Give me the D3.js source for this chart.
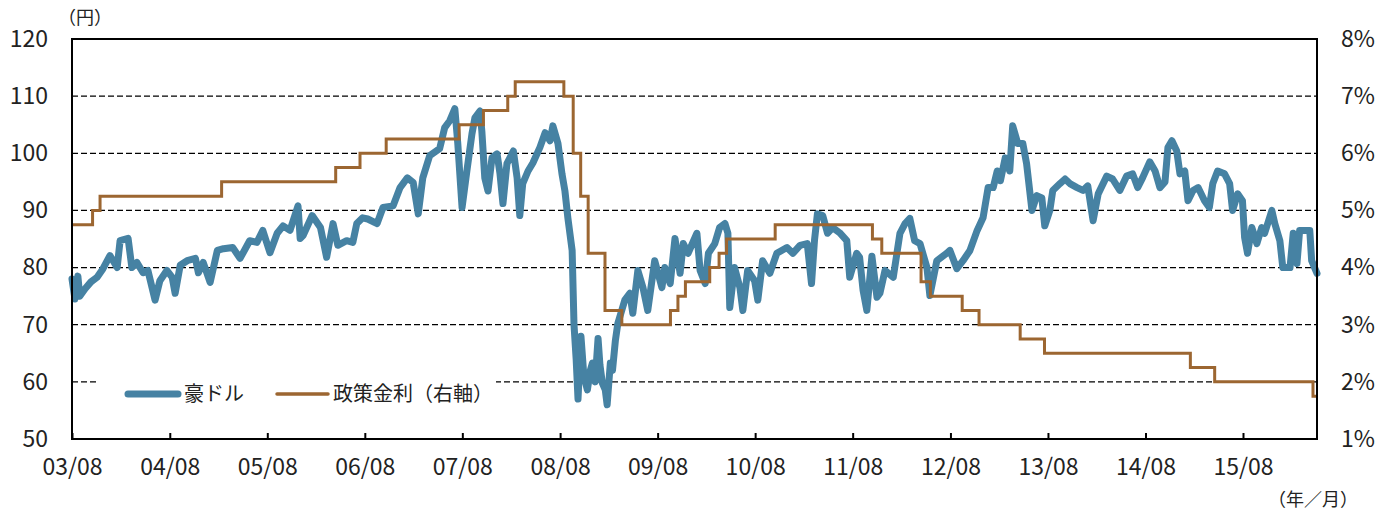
<!DOCTYPE html>
<html>
<head>
<meta charset="utf-8">
<script src="https://cdn.jsdelivr.net/npm/d3@7"></script>
<style>
  body { margin: 0; background: #fff; }
  svg { display: block; font-family: "Noto Sans CJK JP", "Noto Sans", sans-serif; }
</style>
</head>
<body>
<svg width="1396" height="511"></svg>
<script>
// AUD/JPY (円)
const audDates = [
  "2003-08-01","2003-08-12","2003-08-23","2003-08-30","2003-09-19","2003-10-11","2003-11-03","2003-11-25",
  "2003-12-21","2004-01-17","2004-01-28","2004-02-27","2004-03-12","2004-03-31","2004-04-23","2004-05-11",
  "2004-06-07","2004-06-25","2004-07-21","2004-08-10","2004-08-21","2004-09-09","2004-10-05","2004-11-05",
  "2004-11-16","2004-12-04","2004-12-30","2005-01-26","2005-02-18","2005-03-25","2005-04-21","2005-05-27",
  "2005-06-23","2005-07-15","2005-08-11","2005-09-07","2005-09-29","2005-10-25","2005-11-24","2005-12-02",
  "2005-12-13","2006-01-16","2006-02-16","2006-03-11","2006-04-04","2006-04-22","2006-05-25","2006-06-17",
  "2006-07-02","2006-07-24","2006-08-12","2006-09-16","2006-10-08","2006-11-15","2006-12-11","2007-01-07",
  "2007-01-29","2007-02-17","2007-03-06","2007-04-01","2007-05-08","2007-05-27","2007-06-15","2007-07-04",
  "2007-07-15","2007-07-31","2007-08-18","2007-09-06","2007-09-17","2007-10-06","2007-10-13","2007-10-24",
  "2007-11-05","2007-11-20","2007-12-09","2007-12-20","2007-12-31","2008-01-15","2008-02-08","2008-02-22",
  "2008-03-03","2008-03-14","2008-04-03","2008-04-21","2008-05-17","2008-06-06","2008-06-24","2008-07-05",
  "2008-07-24","2008-08-08","2008-08-19","2008-08-30","2008-09-15","2008-09-22","2008-09-30","2008-10-07",
  "2008-10-18","2008-10-29","2008-11-11","2008-11-22","2008-11-30","2008-12-10","2008-12-21","2008-12-28",
  "2009-01-06","2009-01-17","2009-01-24","2009-02-05","2009-02-13","2009-02-24","2009-03-05","2009-03-12",
  "2009-03-31","2009-04-19","2009-04-30","2009-05-19","2009-06-07","2009-06-25","2009-07-21","2009-08-17",
  "2009-08-28","2009-09-17","2009-10-05","2009-10-24","2009-11-05","2009-11-23","2009-12-26","2010-01-07",
  "2010-01-26","2010-02-07","2010-03-03","2010-03-21","2010-04-10","2010-04-21","2010-04-28","2010-05-16",
  "2010-06-05","2010-06-16","2010-07-04","2010-07-30","2010-08-11","2010-08-29","2010-09-25","2010-10-21",
  "2010-11-28","2010-12-20","2011-01-16","2011-02-12","2011-02-28","2011-03-11","2011-03-22","2011-04-11",
  "2011-04-29","2011-05-18","2011-06-13","2011-07-10","2011-07-21","2011-08-16","2011-08-27","2011-09-09",
  "2011-09-23","2011-10-12","2011-10-31","2011-11-11","2011-11-30","2011-12-31","2012-01-25","2012-02-13",
  "2012-03-02","2012-03-20","2012-04-09","2012-05-05","2012-05-16","2012-06-11","2012-07-18","2012-07-30",
  "2012-08-25","2012-09-17","2012-10-13","2012-11-09","2012-12-01","2012-12-20","2013-01-08","2013-01-23",
  "2013-02-04","2013-02-22","2013-03-11","2013-03-22","2013-04-10","2013-04-29","2013-05-13","2013-06-02",
  "2013-06-20","2013-07-09","2013-07-20","2013-08-08","2013-08-19","2013-09-15","2013-10-04","2013-10-22",
  "2013-11-18","2013-12-10","2013-12-28","2014-01-17","2014-02-05","2014-03-09","2014-03-31","2014-04-27",
  "2014-05-22","2014-06-14","2014-07-03","2014-07-21","2014-08-17","2014-09-06","2014-09-24","2014-10-13",
  "2014-10-24","2014-11-08","2014-11-26","2014-12-08","2014-12-26","2015-01-07","2015-01-26","2015-02-14",
  "2015-03-10","2015-03-28","2015-04-10","2015-04-28","2015-05-24","2015-06-12","2015-06-23","2015-07-12",
  "2015-07-30","2015-08-07","2015-08-18","2015-09-03","2015-09-22","2015-10-10","2015-10-21","2015-11-17",
  "2015-11-28","2015-12-17","2015-12-28","2016-01-24","2016-02-05","2016-02-19","2016-02-29","2016-03-26",
  "2016-04-07","2016-04-14","2016-05-04"
];
const audValues = [
  78, 74.5, 78.5, 75, 76.3, 77.5, 78.3, 79.8,
  82.1, 80, 84.7, 85.1, 80, 80.9, 79.1, 79.5,
  74.3, 77.7, 79.5, 78.3, 75.5, 80.4, 81.2, 81.6,
  79.1, 80.9, 77.4, 83, 83.3, 83.5, 81.6, 84.7,
  84.4, 86.5, 82.6, 86, 87.3, 86.5, 90.8, 85.1,
  85.6, 89.1, 87, 81.8, 87.7, 83.9, 84.7, 84.4,
  87.7, 88.7, 88.5, 87.7, 90.5, 90.8, 94, 95.7,
  94.9, 89.4, 95.7, 99.6, 100.8, 104.5, 105.7, 107.8,
  101.7, 90.5, 96.9, 103.4, 106.2, 107.4, 103.9, 95.7,
  93.4, 99.2, 99.9, 96.4, 91.2, 98.2, 100.4, 95.7,
  89.1, 94.7, 96.9, 98.3, 101, 103.6, 102.2, 104.8,
  101.7, 96.4, 93.4, 88.7, 83, 70, 64, 57,
  68, 61, 58.6, 62, 63.3, 60, 67.6, 63,
  59.8, 58.6, 56, 63.3, 62, 67.3, 70.2, 71.3,
  74.3, 75.5, 72, 79.5, 76.5, 72.5, 81.2, 76.5,
  80, 77.2, 85.1, 79, 84.2, 82.5, 86, 79.5,
  77.2, 82.5, 84.2, 87, 87.7, 86, 73, 80,
  76.5, 72.5, 79.5, 77.7, 74.3, 81.2, 79, 82.5,
  83.5, 82.5, 83.9, 84.2, 77.2, 84.7, 89.4, 89.1,
  86, 87, 86.1, 84.7, 78.3, 82.5, 81.8, 76,
  72.5, 82, 74.8, 75.5, 79.5, 78.3, 86, 87.7,
  88.6, 84.7, 84.2, 80, 75.1, 81.2, 82.5, 83,
  79.8, 81.2, 83, 86.5, 88.7, 94, 94, 96.9,
  95.2, 99.2, 96.9, 104.8, 101.7, 101.7, 98.2, 90,
  92.6, 92.2, 87.3, 90, 93.5, 94.7, 95.5, 94.7,
  94, 93.5, 94.3, 88.2, 92.9, 96, 95.5, 93.5,
  96, 96.4, 94, 95.7, 98.5, 96.9, 94, 95,
  101, 102.2, 100.4, 96.4, 96.9, 91.7, 93.5, 94,
  91.7, 90.5, 94.7, 96.9, 96.4, 94.7, 90, 92.9,
  91.7, 85.3, 82.5, 87, 84.2, 87, 86, 90,
  87.7, 84.7, 80, 80, 86, 80.7, 86.5, 86.5,
  86.5, 81.2, 79
];

// policy rate (%), right axis; step dates as placed in the picture
const rateDates = [
  "2003-08-01","2003-10-17","2003-11-14","2005-02-11","2006-04-14","2006-07-14","2006-10-20",
  "2007-07-20","2007-10-19","2008-01-18","2008-02-15","2008-08-15","2008-09-19","2008-10-17",
  "2008-11-14","2009-01-16","2009-03-20","2009-09-18","2009-10-16","2009-11-13","2010-02-12",
  "2010-03-19","2010-04-16","2010-10-15","2011-10-14","2011-11-18","2012-04-13","2012-05-18",
  "2012-09-14","2012-11-16","2013-04-19","2013-07-19","2015-01-16","2015-04-17","2016-04-19",
  "2016-05-04"
];
const rateValues = [
  4.75, 5.00, 5.25, 5.50, 5.75, 6.00, 6.25,
  6.50, 6.75, 7.00, 7.25, 7.00, 6.00, 5.25,
  4.25, 3.25, 3.00, 3.25, 3.50, 3.75, 4.00,
  4.25, 4.50, 4.75, 4.50, 4.25, 3.75, 3.50,
  3.25, 3.00, 2.75, 2.50, 2.25, 2.00, 1.75,
  1.75
];

const leftTicks = [50, 60, 70, 80, 90, 100, 110, 120];
const rightTicks = [1, 2, 3, 4, 5, 6, 7, 8];
const xTickYears = [2003, 2004, 2005, 2006, 2007, 2008, 2009, 2010, 2011, 2012, 2013, 2014, 2015];

const parse = d3.timeParse("%Y-%m-%d");
const aud = audDates.map((d, i) => ({ date: parse(d), value: audValues[i] }));
const rate = rateDates.map((d, i) => ({ date: parse(d), value: rateValues[i] }));

const svg = d3.select("svg");
const plotL = 72, plotR = 1317, plotT = 39, plotB = 439;
const blue = "#4682a3", brown = "#9c6631";
const textCol = "#222";

const x = d3.scaleTime()
  .domain([parse("2003-08-01"), parse("2016-05-04")])
  .range([plotL, plotR]);
const yL = d3.scaleLinear().domain([50, 120]).range([plotB, plotT]);
const yR = d3.scaleLinear().domain([1, 8]).range([plotB, plotT]);

// gridlines
svg.append("g")
  .selectAll("line")
  .data(leftTicks.filter(v => v > 50 && v < 120))
  .join("line")
  .attr("x1", plotL).attr("x2", plotR)
  .attr("y1", d => yL(d)).attr("y2", d => yL(d))
  .attr("stroke", "#000")
  .attr("stroke-width", 1.3)
  .attr("stroke-dasharray", "6,3");

// data
svg.append("path")
  .datum(aud)
  .attr("fill", "none")
  .attr("stroke", blue)
  .attr("stroke-width", 7)
  .attr("stroke-linejoin", "round")
  .attr("stroke-linecap", "round")
  .attr("d", d3.line().x(d => x(d.date)).y(d => yL(d.value)));

svg.append("path")
  .datum(rate)
  .attr("fill", "none")
  .attr("stroke", brown)
  .attr("stroke-width", 3)
  .attr("d", d3.line().curve(d3.curveStepAfter).x(d => x(d.date)).y(d => yR(d.value)));

// frame
svg.append("rect")
  .attr("x", plotL).attr("y", plotT)
  .attr("width", plotR - plotL).attr("height", plotB - plotT)
  .attr("fill", "none").attr("stroke", "#000").attr("stroke-width", 2);

// axes
function styleAxis(g) {
  g.attr("font-family", null).attr("font-size", null);
  g.select(".domain").remove();
  g.selectAll("text").attr("font-size", 23).attr("fill", textCol);
}

const xAxis = d3.axisBottom(x)
  .tickValues(xTickYears.map(y => new Date(y, 7, 1)))
  .tickFormat(d3.timeFormat("%y/%m"))
  .tickSizeInner(-6).tickSizeOuter(0).tickPadding(20);
const gx = svg.append("g").attr("transform", `translate(0,${plotB})`).call(xAxis);
styleAxis(gx);
gx.selectAll(".tick line").attr("stroke", "#000").attr("stroke-width", 2);

const gl = svg.append("g").attr("transform", `translate(${plotL},0)`)
  .call(d3.axisLeft(yL).tickValues(leftTicks).tickSize(0).tickPadding(24));
styleAxis(gl);

const gr = svg.append("g").attr("transform", `translate(${plotR},0)`)
  .call(d3.axisRight(yR).tickValues(rightTicks).tickSize(0).tickPadding(24).tickFormat(d => d + "%"));
styleAxis(gr);

// unit labels
svg.append("text").attr("x", 58).attr("y", 24).attr("font-size", 18).attr("fill", textCol).text("（円）");
svg.append("text").attr("x", 1268).attr("y", 506).attr("font-size", 18).attr("fill", textCol).text("（年／月）");

// legend
const lg = svg.append("g");
lg.append("rect").attr("x", 96).attr("y", 374).attr("width", 400).attr("height", 38).attr("fill", "#fff");
lg.append("line").attr("x1", 128).attr("x2", 178).attr("y1", 394).attr("y2", 394)
  .attr("stroke", blue).attr("stroke-width", 7).attr("stroke-linecap", "round");
lg.append("text").attr("x", 184).attr("y", 394).attr("dy", "0.35em").attr("font-size", 20).attr("fill", textCol).text("豪ドル");
lg.append("line").attr("x1", 277).attr("x2", 328).attr("y1", 394).attr("y2", 394)
  .attr("stroke", brown).attr("stroke-width", 3.5).attr("stroke-linecap", "round");
lg.append("text").attr("x", 333).attr("y", 394).attr("dy", "0.35em").attr("font-size", 20).attr("fill", textCol).text("政策金利（右軸）");
</script>
</body>
</html>
